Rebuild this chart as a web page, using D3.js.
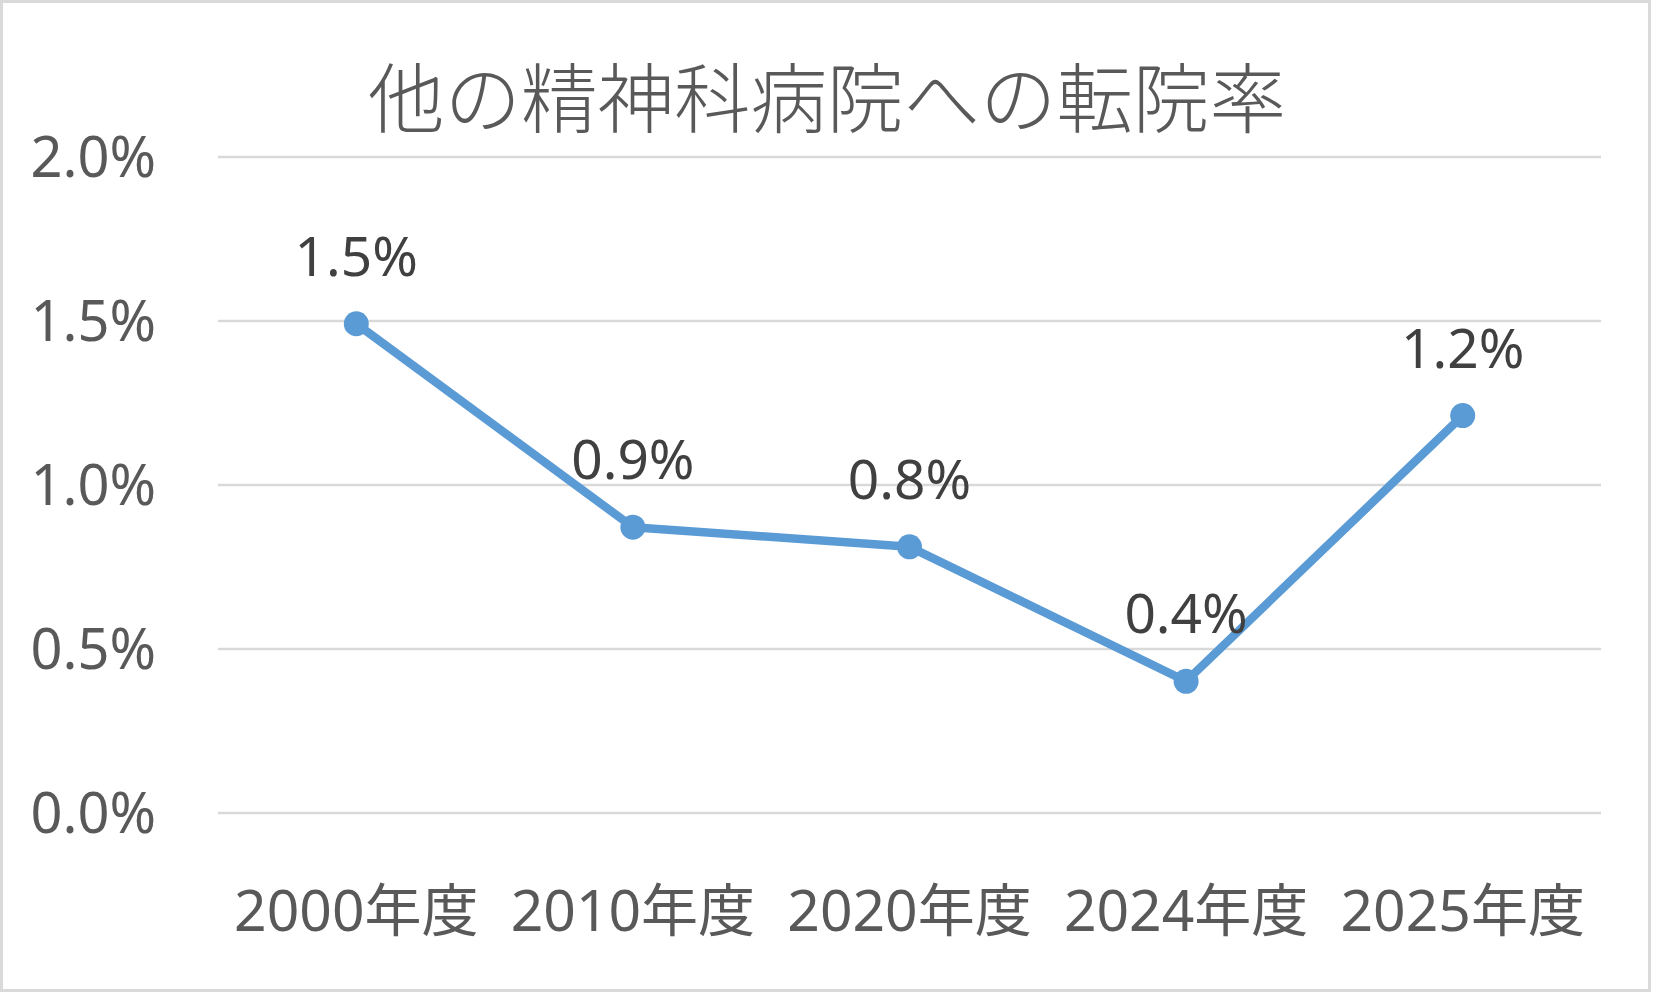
<!DOCTYPE html>
<html>
  <head>
    <meta charset="utf-8">
    <title>他の精神科病院への転院率</title>
    <script src="https://d3js.org/d3.v7.min.js"></script>
    <style>
      body { margin: 0; background: #fff; }
      svg { display: block; }
    </style>
  </head>
  <body>
    <svg id="chart"></svg>
    <script>
      // データ
      var categories = ["2000年度", "2010年度", "2020年度", "2024年度", "2025年度"];
      var rates = [1.49, 0.87, 0.81, 0.40, 1.21];
      var yTicks = [0, 0.5, 1.0, 1.5, 2.0];
      var title = "他の精神科病院への転院率";

      var W = 1653, H = 993;
      var margin = { top: 156.5, right: 52, bottom: 180.5, left: 218 };
      var width = W - margin.left - margin.right;
      var height = H - margin.top - margin.bottom;
      var font = "'Noto Sans', 'Noto Sans CJK JP', sans-serif";

      var svg = d3.select("#chart")
        .attr("width", W)
        .attr("height", H);

      // 外枠
      svg.append("rect")
        .attr("x", 1.5).attr("y", 1.5)
        .attr("width", W - 5).attr("height", H - 4)
        .attr("fill", "#fff")
        .attr("stroke", "#d9d9d9")
        .attr("stroke-width", 3);

      var g = svg.append("g")
        .attr("transform", "translate(" + margin.left + "," + margin.top + ")");

      var x = d3.scaleBand()
        .domain(categories)
        .range([0, width]);

      var y = d3.scaleLinear()
        .domain([0, 2])
        .range([height, 0]);

      // 目盛線
      var yAxis = d3.axisLeft(y)
        .tickValues(yTicks)
        .tickSize(-width)
        .tickPadding(62)
        .tickFormat(function(d) { return d.toFixed(1) + "%"; });

      var ya = g.append("g").call(yAxis);
      ya.select(".domain").remove();
      ya.selectAll(".tick line")
        .attr("stroke", "#d9d9d9")
        .attr("stroke-width", 2.5);
      ya.selectAll(".tick text")
        .attr("fill", "#595959")
        .style("font-family", font)
        .style("font-size", "56px")
        .attr("dy", "0.36em");

      // X軸ラベル
      var xAxis = d3.axisBottom(x)
        .tickSize(0)
        .tickPadding(78);
      var xa = g.append("g")
        .attr("transform", "translate(0," + height + ")")
        .call(xAxis);
      xa.select(".domain").remove();
      xa.selectAll(".tick text")
        .attr("fill", "#595959")
        .style("font-family", font)
        .style("font-size", "57px")
        .attr("dy", "0.71em");

      // 折れ線
      var line = d3.line()
        .x(function(d, i) { return x(categories[i]) + x.bandwidth() / 2; })
        .y(function(d) { return y(d); });

      g.append("path")
        .datum(rates)
        .attr("d", line)
        .attr("fill", "none")
        .attr("stroke", "#5b9bd5")
        .attr("stroke-width", 8.5)
        .attr("stroke-linejoin", "round");

      g.selectAll(".dot")
        .data(rates)
        .enter()
        .append("circle")
        .attr("class", "dot")
        .attr("cx", function(d, i) { return x(categories[i]) + x.bandwidth() / 2; })
        .attr("cy", function(d) { return y(d); })
        .attr("r", 12.5)
        .attr("fill", "#5b9bd5");

      // データラベル
      g.selectAll(".lbl")
        .data(rates)
        .enter()
        .append("text")
        .attr("class", "lbl")
        .attr("x", function(d, i) { return x(categories[i]) + x.bandwidth() / 2; })
        .attr("y", function(d) { return y(d) - 48; })
        .attr("text-anchor", "middle")
        .attr("fill", "#404040")
        .style("font-family", font)
        .style("font-size", "55px")
        .text(function(d) { return d.toFixed(1) + "%"; });

      // タイトル
      svg.append("text")
        .attr("x", 827)
        .attr("y", 127)
        .attr("text-anchor", "middle")
        .attr("fill", "#595959")
        .style("font-family", "'Noto Sans CJK JP', sans-serif")
        .style("font-weight", 300)
        .style("font-size", "76.5px")
        .text(title);
    </script>
  </body>
</html>
